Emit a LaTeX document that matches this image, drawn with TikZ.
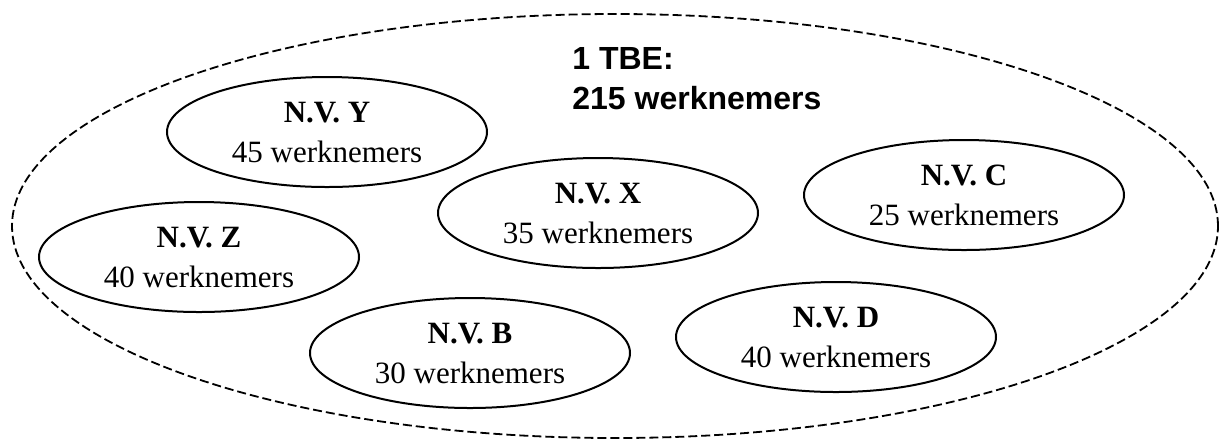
\documentclass[tikz,border=0pt]{standalone}
\usepackage{fontspec}
\setmainfont{Liberation Serif}
\newfontfamily\titlefont{Liberation Sans}
\usetikzlibrary{shapes.geometric}

\tikzset{
	group/.style={ellipse, draw, dash pattern=on 4.5pt off 2pt, line width=0.9pt, minimum width=603pt, minimum height=212pt, inner sep=0pt},
	firm/.style={ellipse, draw, line width=1pt, minimum width=160pt, minimum height=55pt, inner sep=0pt, align=center, font=\fontsize{15.5}{20}\selectfont}
}

\begin{document}
\begin{tikzpicture}[x=0.5pt, y=-0.5pt]
		%%%%% START %%%%%
		\useasboundingbox (0, 0) rectangle (1220, 441);
		
		% the whole TBE
		\node[group] (tbe) at (615, 226) {};
		\node[anchor=north west, inner sep=0pt, align=left, font=\titlefont\bfseries\fontsize{16}{20}\selectfont] (title) at (572, 47) {1 TBE:\\215 werknemers};
		
		% the companies
		\node[firm] (nvy) at (327, 132) {\textbf{N.V. Y}\\45 werknemers};
		\node[firm] (nvx) at (598, 213) {\textbf{N.V. X}\\35 werknemers};
		\node[firm] (nvc) at (964, 195) {\textbf{N.V. C}\\25 werknemers};
		\node[firm] (nvz) at (199, 257) {\textbf{N.V. Z}\\40 werknemers};
		\node[firm] (nvb) at (470, 353) {\textbf{N.V. B}\\30 werknemers};
		\node[firm] (nvd) at (836, 337) {\textbf{N.V. D}\\40 werknemers};
		
		%%%%% END %%%%%
\end{tikzpicture}
\end{document}
